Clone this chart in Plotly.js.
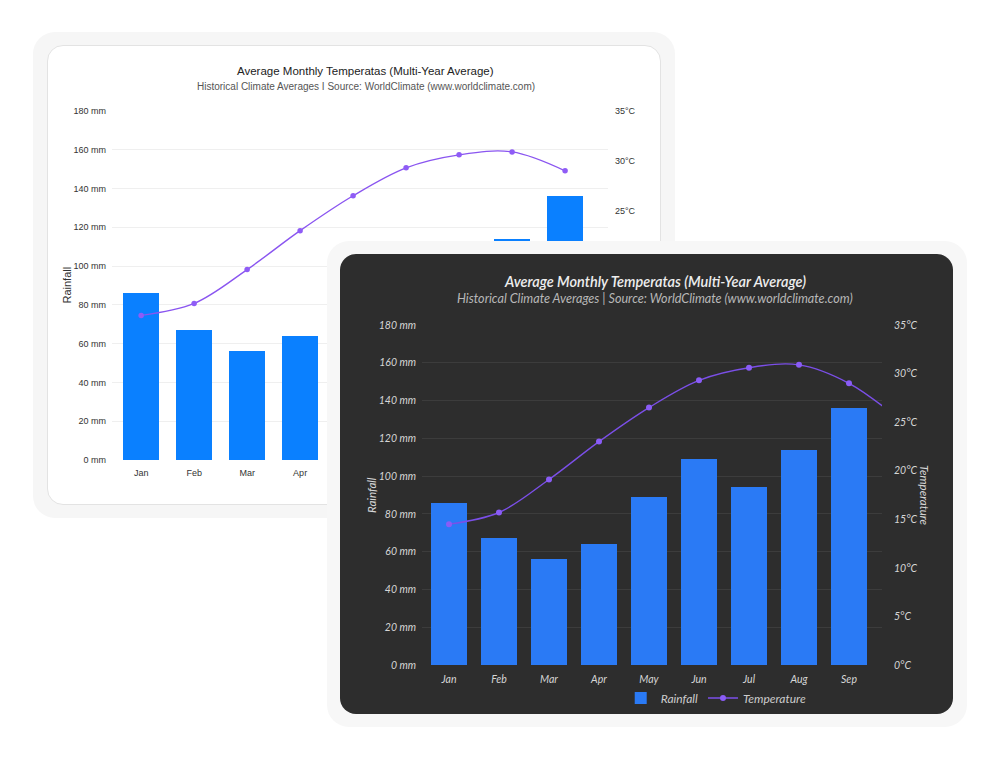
<!DOCTYPE html>
<html>
<head>
<meta charset="utf-8">
<script src="https://cdn.plot.ly/plotly-3.0.1.min.js"></script>
<style>
body { margin: 0; width: 1000px; height: 760px; background: #ffffff; position: relative; overflow: hidden; }
.frame { position: absolute; box-sizing: border-box; }
.plot { position: absolute; }
</style>
</head>
<body>
<div class="frame" style="left:33px;top:32px;width:642px;height:486px;background:#f6f6f6;border-radius:22px;"></div>
<div class="frame" style="left:47px;top:45px;width:614px;height:460px;background:#fff;border:1px solid #e3e3e3;border-radius:16px;"></div>
<div id="light_chart" class="plot" style="left:47px;top:45px;width:614px;height:460px;"></div>
<div class="frame" style="left:327px;top:241px;width:640px;height:486px;background:#f7f7f7;border-radius:22px;"></div>
<div class="frame" style="left:340px;top:254px;width:613px;height:460px;background:#2d2d2d;border-radius:16px;"></div>
<div id="dark_chart" class="plot" style="left:340px;top:254px;width:613px;height:460px;"></div>
<script>
// values
const months = ["Jan", "Feb", "Mar", "Apr", "May", "Jun", "Jul", "Aug", "Sep", "Oct"]
const rainfall = [86, 67, 56, 64, 89, 109, 94, 114, 136]
const temperature = [14.5, 15.7, 19.1, 23.0, 26.5, 29.3, 30.6, 30.9, 29.0, 25.3]
const title_text = "Average Monthly Temperatas (Multi-Year Average)"
const light_subtitle = "Historical Climate Averages I Source: WorldClimate (www.worldclimate.com)"
const dark_subtitle = "Historical Climate Averages | Source: WorldClimate (www.worldclimate.com)"

function make_chart(div_id, opts) {
    const bar_months = months.slice(0, rainfall.length)
    const line_len = opts.extend_line ? temperature.length : rainfall.length
    const plot_h = opts.height - opts.m.t - opts.m.b
    const plot_w = opts.width - opts.m.l - opts.m.r
    // pixel offset from top of div -> paper y
    const py = (px) => (opts.height - opts.m.b - px) / plot_h
    const pxx = (px) => (px - opts.m.l) / plot_w

    var traces = [
        {
            x: bar_months,
            y: rainfall,
            name: "Rainfall",
            type: "bar",
            width: opts.bar_width,
            marker: { color: opts.bar_color, line: { width: 0 } },
            hoverinfo: "skip"
        },
        {
            x: months.slice(0, line_len),
            y: temperature.slice(0, line_len),
            name: "Temperature",
            type: "scatter",
            mode: "lines+markers",
            yaxis: "y2",
            line: { color: opts.line_color, width: 1.4, shape: "spline", smoothing: 1 },
            marker: { color: opts.marker_color, size: opts.marker_size },
            cliponaxis: true,
            hoverinfo: "skip"
        }
    ]

    var tick_font = { family: opts.family, size: opts.tick_size, color: opts.tick_color, style: opts.style }
    var layout = {
        width: opts.width,
        height: opts.height,
        margin: opts.m,
        paper_bgcolor: "rgba(0,0,0,0)",
        plot_bgcolor: "rgba(0,0,0,0)",
        bargap: 0,
        showlegend: opts.legend,
        legend: {
            orientation: "h",
            x: opts.legend_x, xanchor: "left",
            y: py(opts.legend_y), yanchor: "middle",
            font: { family: opts.family, size: 12, color: opts.legend_color, style: opts.style },
            itemwidth: 30,
            bgcolor: "rgba(0,0,0,0)"
        },
        xaxis: {
            type: "category",
            range: opts.x_range,
            showgrid: false,
            zeroline: false,
            showline: false,
            ticks: "",
            tickfont: tick_font,
            ticklabelstandoff: opts.x_standoff
        },
        yaxis: {
            range: [0, 180],
            dtick: 20,
            ticksuffix: " mm",
            showgrid: true,
            gridcolor: opts.grid_color,
            gridwidth: 1,
            zeroline: false,
            showline: false,
            ticks: "",
            tickfont: tick_font,
            ticklabelstandoff: 5
        },
        yaxis2: {
            overlaying: "y",
            side: "right",
            range: [0, 35],
            dtick: 5,
            ticksuffix: "°C",
            showgrid: false,
            zeroline: false,
            showline: false,
            ticks: "",
            tickfont: tick_font,
            ticklabelstandoff: opts.right_standoff
        },
        annotations: [
            {
                text: title_text, xref: "paper", yref: "paper",
                x: opts.title_x, y: py(opts.title_y), xanchor: "center", yanchor: "middle", showarrow: false,
                font: { family: opts.family, size: opts.title_size, color: opts.title_color, style: opts.style, weight: opts.title_weight }
            },
            {
                text: opts.subtitle, xref: "paper", yref: "paper",
                x: opts.title_x, y: py(opts.subtitle_y), xanchor: "center", yanchor: "middle", showarrow: false,
                font: { family: opts.family, size: opts.subtitle_size, color: opts.subtitle_color, style: opts.style }
            },
            {
                text: "Rainfall", xref: "paper", yref: "paper", textangle: -90,
                x: pxx(opts.rain_title_x), y: 0.5, xanchor: "center", yanchor: "middle", showarrow: false,
                font: { family: opts.family, size: opts.axis_title_size, color: opts.axis_title_color, style: opts.style }
            }
        ]
    }
    layout.margin.autoexpand = false
    if (opts.temp_title_x) {
        layout.annotations.push({
            text: "Temperature", xref: "paper", yref: "paper", textangle: 90,
            x: pxx(opts.temp_title_x), y: 0.5, xanchor: "center", yanchor: "middle", showarrow: false,
            font: { family: opts.family, size: opts.axis_title_size, color: opts.axis_title_color, style: opts.style }
        })
    }

    Plotly.newPlot(div_id, traces, layout, { staticPlot: true, responsive: false, displayModeBar: false })
}

make_chart("light_chart", {
    width: 614, height: 460,
    m: { l: 65, r: 53, t: 66, b: 45, pad: 0 },
    x_range: [-0.55, 8.81],
    bar_width: 0.68,
    bar_color: "#0a80ff",
    line_color: "#8a55f0",
    marker_color: "#8f5cf6",
    marker_size: 5.5,
    extend_line: false,
    family: "Liberation Sans, Arial, sans-serif",
    style: "normal",
    tick_size: 9,
    tick_color: "#333333",
    grid_color: "#efefef",
    x_standoff: 6,
    right_standoff: 6,
    title_x: 0.512, title_y: 26, title_size: 11.5, title_color: "#222222", title_weight: 400,
    subtitle: light_subtitle, subtitle_y: 42, subtitle_size: 10, subtitle_color: "#555555",
    rain_title_x: 19, axis_title_size: 11, axis_title_color: "#333333",
    temp_title_x: null,
    legend: false, legend_x: 0.5, legend_y: 440, legend_color: "#333"
})

make_chart("dark_chart", {
    width: 613, height: 460,
    m: { l: 82, r: 71, t: 71, b: 49, pad: 0 },
    x_range: [-0.54, 8.66],
    bar_width: 0.72,
    bar_color: "#2a7af5",
    line_color: "#7b4fe8",
    marker_color: "#8a5cf6",
    marker_size: 6,
    extend_line: true,
    family: "Lato, Roboto, sans-serif",
    style: "italic",
    tick_size: 10.5,
    tick_color: "#d6d6d6",
    grid_color: "#3c3c3c",
    x_standoff: 6,
    right_standoff: 11,
    title_x: 0.506, title_y: 27, title_size: 14.5, title_color: "#eeeeee", title_weight: 600,
    subtitle: dark_subtitle, subtitle_y: 44, subtitle_size: 12.6, subtitle_color: "#b8b8b8",
    rain_title_x: 31, axis_title_size: 11.5, axis_title_color: "#d6d6d6",
    temp_title_x: 585,
    legend: true, legend_x: 0.432, legend_y: 444, legend_color: "#cccccc"
})
</script>
</body>
</html>
